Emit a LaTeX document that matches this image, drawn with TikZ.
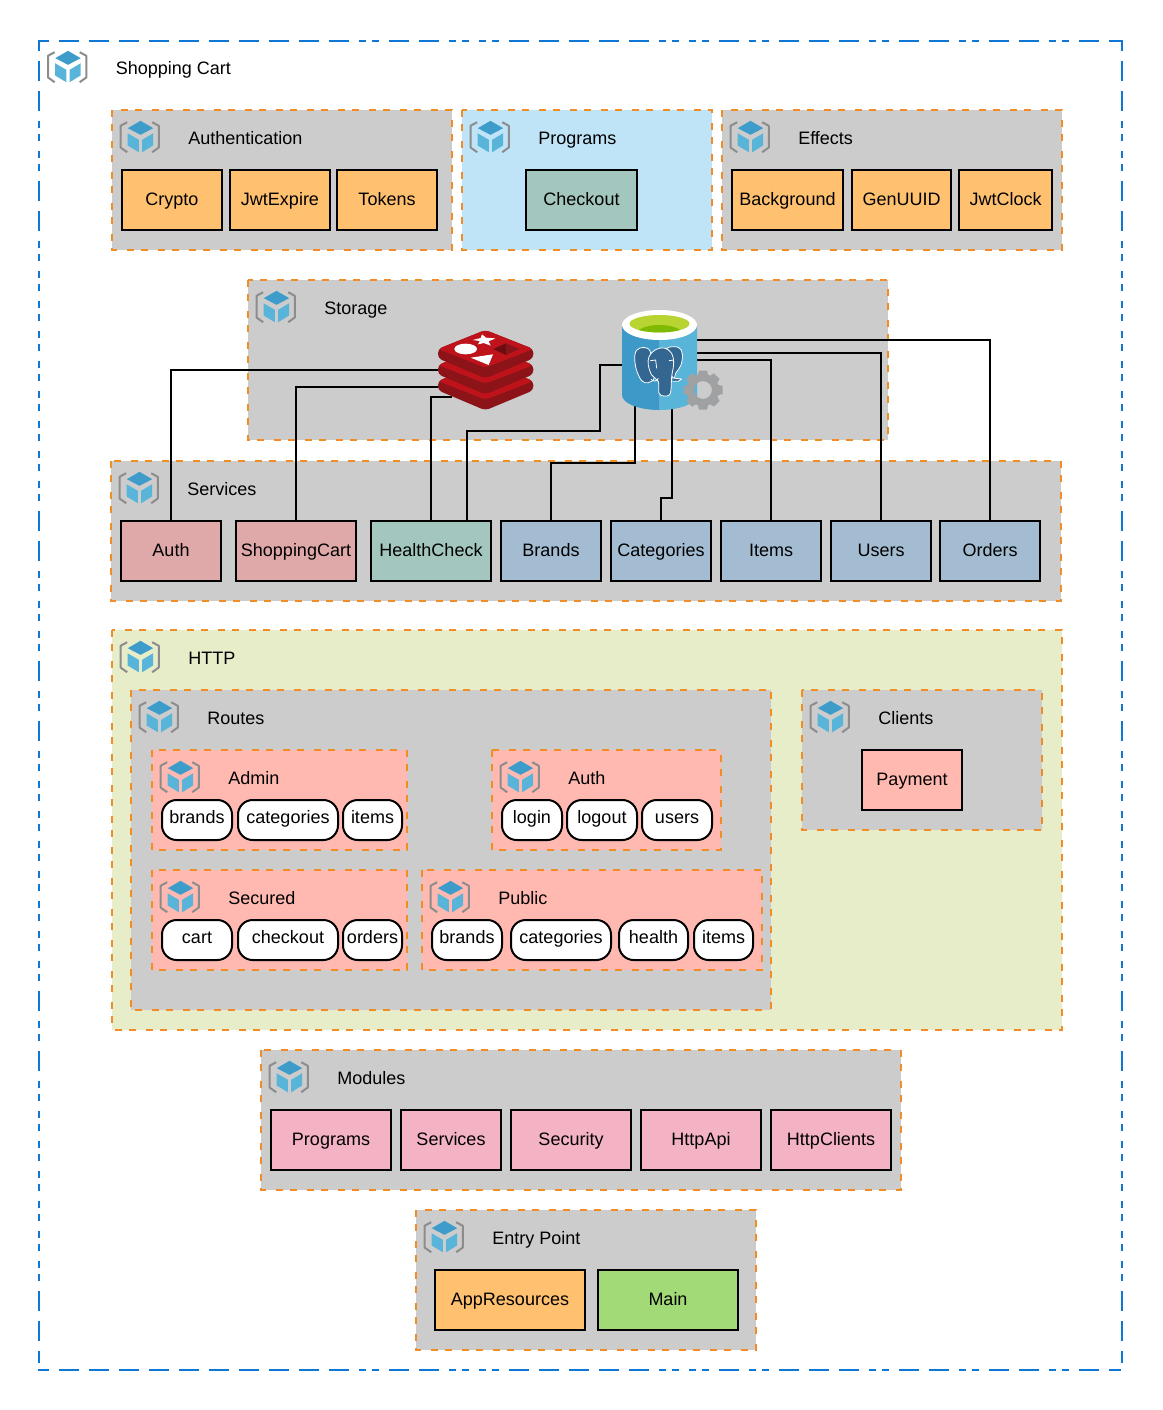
\documentclass[tikz,border=0pt]{standalone}
\usepackage{fontspec}
\setmainfont{Liberation Sans}
\usetikzlibrary{calc}

\definecolor{dashblue}{HTML}{0F77D6}
\definecolor{dashorange}{HTML}{F08D26}
\definecolor{pkggrey}{HTML}{CCCCCC}
\definecolor{pkgblue}{HTML}{C0E4F7}
\definecolor{pkggreen}{HTML}{E8EDC9}
\definecolor{pkgsalmon}{HTML}{FFB9B0}
\definecolor{leaforange}{HTML}{FFC170}
\definecolor{leafteal}{HTML}{A3C7BE}
\definecolor{leafred}{HTML}{E0A9A9}
\definecolor{leafslate}{HTML}{A3BCD2}
\definecolor{leafpink}{HTML}{F4B2C5}
\definecolor{leafgreen}{HTML}{A3DA78}

\tikzset{
  sideh/.style={draw=dashblue,line width=1.5pt,dash pattern=on 8.25pt off 7.5pt
    on 15pt off 7.5pt on 15pt off 7.5pt on 15pt off 7.5pt on 15pt off 7.5pt on 15pt off 7.5pt
    on 15pt off 7.5pt on 15pt off 7.5pt on 15pt off 7.5pt on 15pt off 7.5pt on 15pt off 7.5pt
    on 5.25pt off 4.5pt on 5.25pt off 7.5pt
    on 15pt off 7.5pt on 15pt off 7.5pt
    on 5.25pt off 4.5pt on 5.25pt off 7.5pt on 5.25pt off 4.5pt on 5.25pt off 7.5pt
    on 15pt off 7.5pt on 15pt off 7.5pt on 15pt off 7.5pt on 15pt off 7.5pt on 15pt off 7.5pt
    on 5.25pt off 4.5pt on 5.25pt off 7.5pt on 5.25pt off 4.5pt on 5.25pt off 7.5pt
    on 15pt off 7.5pt
    on 5.25pt off 4.5pt on 5.25pt off 7.5pt
    on 15pt off 7.5pt on 15pt off 7.5pt on 15pt off 7.5pt
    on 5.25pt off 4.5pt on 5.25pt off 7.5pt
    on 15pt off 7.5pt on 15pt off 7.5pt
    on 5.25pt off 4.5pt on 5.25pt off 7.5pt
    on 15pt off 7.5pt on 15pt off 7.5pt
    on 5.25pt off 4.5pt on 5.25pt off 7.5pt
    on 15pt off 7.5pt on 9pt off 40pt},
  sidev/.style={draw=dashblue,line width=1.5pt,dash pattern=on 8.25pt off 7.5pt
    on 15pt off 7.5pt on 15pt off 7.5pt
    on 5.25pt off 4.5pt on 5.25pt off 7.5pt on 5.25pt off 4.5pt on 5.25pt off 7.5pt
    on 15pt off 7.5pt on 15pt off 7.5pt
    on 5.25pt off 4.5pt on 5.25pt off 7.5pt on 5.25pt off 4.5pt on 5.25pt off 7.5pt
    on 5.25pt off 4.5pt on 5.25pt off 7.5pt on 5.25pt off 4.5pt on 5.25pt off 7.5pt
    on 5.25pt off 4.5pt on 5.25pt off 7.5pt on 5.25pt off 4.5pt on 5.25pt off 7.5pt
    on 5.25pt off 4.5pt on 5.25pt off 7.5pt on 5.25pt off 4.5pt on 5.25pt off 7.5pt
    on 5.25pt off 4.5pt on 5.25pt off 7.5pt
    on 15pt off 7.5pt on 15pt off 7.5pt
    on 5.25pt off 4.5pt on 5.25pt off 7.5pt on 5.25pt off 4.5pt on 5.25pt off 7.5pt
    on 5.25pt off 4.5pt on 5.25pt off 7.5pt
    on 15pt off 7.5pt
    on 5.25pt off 4.5pt on 5.25pt off 7.5pt
    on 15pt off 7.5pt
    on 5.25pt off 4.5pt on 5.25pt off 7.5pt on 5.25pt off 4.5pt on 5.25pt off 7.5pt
    on 5.25pt off 4.5pt on 5.25pt off 7.5pt on 5.25pt off 4.5pt on 5.25pt off 7.5pt
    on 5.25pt off 4.5pt on 5.25pt off 7.5pt on 5.25pt off 4.5pt on 5.25pt off 7.5pt
    on 5.25pt off 4.5pt on 5.25pt off 7.5pt on 5.25pt off 4.5pt on 5.25pt off 7.5pt
    on 15pt off 7.5pt
    on 5.25pt off 4.5pt on 5.25pt off 7.5pt
    on 15pt off 7.5pt
    on 5.25pt off 4.5pt on 5.25pt off 7.5pt on 5.25pt off 4.5pt on 5.25pt off 7.5pt
    on 5.25pt off 4.5pt on 5.25pt off 7.5pt on 5.25pt off 4.5pt on 5.25pt off 7.5pt
    on 5.25pt off 4.5pt on 5.25pt off 7.5pt on 5.25pt off 4.5pt on 5.25pt off 7.5pt
    on 5.25pt off 4.5pt on 5.25pt off 7.5pt
    on 15pt off 7.5pt on 15pt off 7.5pt on 9pt off 40pt},
  pkg/.style={draw=dashorange,line width=1.5pt,dash pattern=on 5.25pt off 5.25pt on 5.25pt off 7.5pt,fill=#1},
  pkgtitle/.style={anchor=base west,inner sep=0pt},
  leaf/.style={draw,line width=1.5pt,fill=#1,inner sep=0pt,outer sep=0pt,minimum height=45pt,
    text height=9.75pt,text depth=1.5pt},
  leafw/.style={minimum width=#1*0.75pt},
  pill/.style={draw,line width=1.5pt,fill=white,rounded corners=11pt,inner sep=0pt,outer sep=0pt,
    minimum height=30pt,minimum width=#1*0.75pt,text height=9.75pt,text depth=4.25pt},
  link/.style={draw,line width=1.5pt},
  pkgicon/.pic={
    \draw[gray!90,line width=1.5pt,line join=round] (-12.3,-14.3) -- (-19,-10.7) -- (-19,11) -- (-12.3,15.7);
    \draw[gray!90,line width=1.5pt,line join=round] (12.7,-14.3) -- (19.3,-10.7) -- (19.3,11) -- (12.7,15.7);
    \fill[fill={rgb,255:red,62;green,156;blue,202}] (1,-15.7) -- (13.7,-8.3) -- (1,-1.7) -- (-11.7,-8.3) -- cycle;
    \fill[fill={rgb,255:red,89;green,180;blue,217}] (-12,-3.3) -- (-0.7,3.3) -- (-0.7,15.7) -- (-12,8.9) -- cycle;
    \fill[fill={rgb,255:red,89;green,180;blue,217}] (2.7,3.3) -- (13.7,-3.3) -- (13.7,8.9) -- (2.7,15.7) -- cycle;
  }
}

% style, x0, y0, x1, y1, title
\newcommand{\pkgbox}[6]{
  \draw[#1] (#2,#3) rectangle (#4,#5);
  \pic at ($(#2,#3)+(27.5,26.5)$) {pkgicon};
  \node[pkgtitle] (title #2 #3) at ($(#2,#3)+(76,34.5)$) {#6};
}

\begin{document}
\begin{tikzpicture}[x=0.75pt,y=-0.75pt,font=\fontsize{13.5pt}{16pt}\selectfont]
\useasboundingbox (0,0) rectangle (1163,1410);

\pkgbox{draw=none}{39.5}{40}{1122}{1370}{Shopping Cart}
\draw[sideh] (38,41) -- (1123,41);
\draw[sideh] (38,1370) -- (1123,1370);
\draw[sidev] (39,40) -- (39,1371);
\draw[sidev] (1122,40) -- (1122,1371);

%top row
\pkgbox{pkg=pkggrey}{112}{110}{452}{250}{Authentication}
\node[leaf=leaforange,leafw=100] (crypto) at (172,200) {Crypto};
\node[leaf=leaforange,leafw=100] (jwtexpire) at (280,200) {JwtExpire};
\node[leaf=leaforange,leafw=100] (tokens) at (387,200) {Tokens};

\pkgbox{pkg=pkgblue}{462}{110}{712}{250}{Programs}
\node[leaf=leafteal,leafw=111] (checkout) at (581.5,200) {Checkout};

\pkgbox{pkg=pkggrey}{722}{110}{1062}{250}{Effects}
\node[leaf=leaforange,leafw=111] (background) at (787.5,200) {Background};
\node[leaf=leaforange,leafw=99] (genuuid) at (901.5,200) {GenUUID};
\node[leaf=leaforange,leafw=93] (jwtclock) at (1005.5,200) {JwtClock};

%storage and services
\pkgbox{pkg=pkggrey}{248}{280}{888}{440}{Storage}
\pkgbox{pkg=pkggrey}{111}{461}{1061}{601}{Services}
\node[leaf=leafred,leafw=100] (auth) at (171,551) {Auth};
\node[leaf=leafred,leafw=120] (shoppingcart) at (296,551) {ShoppingCart};
\node[leaf=leafteal,leafw=120] (healthcheck) at (431,551) {HealthCheck};
\node[leaf=leafslate,leafw=100] (brands) at (551,551) {Brands};
\node[leaf=leafslate,leafw=100] (categories) at (661,551) {Categories};
\node[leaf=leafslate,leafw=100] (items) at (771,551) {Items};
\node[leaf=leafslate,leafw=100] (users) at (881,551) {Users};
\node[leaf=leafslate,leafw=100] (orders) at (990,551) {Orders};

\coordinate (redisA) at (445,370);
\coordinate (redisB) at (445,387);
\coordinate (redisC) at (452,397);
\coordinate (pgA) at (630,365);
\coordinate (pgB) at (635,400);
\coordinate (pgC) at (672,400);
\coordinate (pgD) at (690,360);
\coordinate (pgE) at (690,353);
\coordinate (pgF) at (690,339.5);
\coordinate (hcB) at (467,521);

\draw[link] (auth.north) |- (redisA);
\draw[link] (shoppingcart.north) |- (redisB);
\draw[link] (healthcheck.north) |- (redisC);
\draw[link] (hcB) |- (600,430.5) |- (pgA);
\draw[link] (brands.north) |- (635,463) -- (pgB);
\draw[link] (categories.north) |- (672,498) -- (pgC);
\draw[link] (items.north) |- (pgD);
\draw[link] (users.north) |- (pgE);
\draw[link] (orders.north) |- (pgF);

%redis logo
\begin{scope}[shift={(432,325)},x=0.25pt,y=-0.25pt]
\foreach \dy in {96,48,0}{
  \fill[rounded corners=3pt,fill={rgb,255:red,140;green,20;blue,24}] (18,72+\dy) -- (160,15+\dy) -- (304,72+\dy) -- (304,100+\dy) -- (160,160+\dy) -- (18,100+\dy) -- cycle;
  \fill[rounded corners=3pt,fill={rgb,255:red,190;green,19;blue,26}] (18,72+\dy) -- (160,15+\dy) -- (304,72+\dy) -- (160,128+\dy) -- cycle;
}
\fill[white] (150,28) -- (162,38) -- (190,40) -- (170,49) -- (176,62) -- (155,54) -- (138,58) -- (143,48) -- (122,45) -- (146,39) -- cycle;
\fill[white] (101,72) ellipse [x radius=34,y radius=16];
\fill[white] (116,98) -- (183,88) -- (170,120) -- cycle;
\fill[fill={rgb,255:red,110;green,12;blue,16}] (183,72) -- (222,55) -- (222,90) -- cycle;
\fill[fill={rgb,255:red,135;green,20;blue,24}] (222,55) -- (262,72) -- (222,90) -- cycle;
\end{scope}

%postgres logo
\fill[fill={rgb,255:red,60;green,153;blue,200}] (622,325) -- (622,395) arc [start angle=180,end angle=90,x radius=37.5,y radius=15] -- (659.5,325) -- cycle;
\fill[fill={rgb,255:red,89;green,180;blue,217}] (697,325) -- (697,395) arc [start angle=0,end angle=90,x radius=37.5,y radius=15] -- (659.5,325) -- cycle;
\fill[white] (659.5,325) ellipse [x radius=37.5,y radius=15];
\begin{scope}
\clip (659.5,323.7) ellipse [x radius=30,y radius=8.7];
\fill[fill={rgb,255:red,184;green,212;blue,50}] (625,310) rectangle (695,340);
\fill[fill={rgb,255:red,127;green,186;blue,0}] (659.5,334) ellipse [x radius=23,y radius=9];
\end{scope}
\begin{scope}[shift={(625,340)},x=0.25pt,y=-0.25pt]
\draw[white,line width=0.6pt,fill={rgb,255:red,51;green,103;blue,145},line join=round]
  plot [smooth cycle,tension=0.6] coordinates {(72,28) (45,24) (30,42) (33,85) (50,122) (70,128) (88,112) (80,60)};
\draw[white,line width=0.6pt,fill={rgb,255:red,51;green,103;blue,145},line join=round]
  plot [smooth cycle,tension=0.6] coordinates {(125,26) (160,22) (172,42) (168,75) (152,100) (145,115) (125,70)};
\draw[white,line width=0.6pt,fill={rgb,255:red,51;green,103;blue,145},line join=round]
  plot [smooth cycle,tension=0.6] coordinates {(72,50) (90,30) (118,24) (140,40) (146,70) (140,110) (136,160) (118,168) (102,160) (100,125) (80,105) (70,75)};
\draw[white,line width=0.6pt,fill={rgb,255:red,51;green,103;blue,145},line join=round]
  (143,114) -- (170,117) -- (160,124) -- (143,124);
\draw[white,line width=0.6pt] (78,118) .. controls (85,125) and (95,125) .. (100,115);
\draw[white,line width=0.6pt] (76,62) -- (92,60) -- (95,85);
\draw[white,line width=0.6pt] (132,62) -- (146,60);
\end{scope}
\draw[fill=none,draw={rgb,255:red,160;green,161;blue,162},line width=5.25pt] (703,390) circle [radius=12.5];
\foreach \a in {0,45,...,315}{
  \fill[fill={rgb,255:red,160;green,161;blue,162},rotate around={\a:(703,390)}] (699,370.5) -- (707,370.5) -- (709,378) -- (697,378) -- cycle;
}

%http
\pkgbox{pkg=pkggreen}{112}{630}{1062}{1030}{HTTP}
\pkgbox{pkg=pkggrey}{131}{690}{771}{1010}{Routes}
\pkgbox{pkg=pkggrey}{802}{690}{1042}{830}{Clients}
\node[leaf=pkgsalmon,leafw=100] (payment) at (912,780) {Payment};

\pkgbox{pkg=pkgsalmon}{152}{750}{407}{850}{Admin}
\node[pill=70] (adminbrands) at (197,820) {brands};
\node[pill=100] (admincategories) at (288,820) {categories};
\node[pill=59] (adminitems) at (372.5,820) {items};

\pkgbox{pkg=pkgsalmon}{492}{750}{721}{850}{Auth}
\node[pill=60] (authlogin) at (532,820) {login};
\node[pill=70] (authlogout) at (602,820) {logout};
\node[pill=70] (authusers) at (677,820) {users};

\pkgbox{pkg=pkgsalmon}{152}{870}{407}{970}{Secured}
\node[pill=70] (securedcart) at (197,940) {cart};
\node[pill=100] (securedcheckout) at (288,940) {checkout};
\node[pill=59] (securedorders) at (372.5,940) {orders};

\pkgbox{pkg=pkgsalmon}{422}{870}{762}{970}{Public}
\node[pill=70] (publicbrands) at (467,940) {brands};
\node[pill=100] (publiccategories) at (561,940) {categories};
\node[pill=69] (publichealth) at (653.5,940) {health};
\node[pill=59] (publicitems) at (723.5,940) {items};

%modules
\pkgbox{pkg=pkggrey}{261}{1050}{901}{1190}{Modules}
\node[leaf=leafpink,leafw=120] (modprograms) at (331,1140) {Programs};
\node[leaf=leafpink,leafw=100] (modservices) at (451,1140) {Services};
\node[leaf=leafpink,leafw=120] (modsecurity) at (571,1140) {Security};
\node[leaf=leafpink,leafw=120] (modhttpapi) at (701,1140) {HttpApi};
\node[leaf=leafpink,leafw=120] (modhttpclients) at (831,1140) {HttpClients};

%entry point
\pkgbox{pkg=pkggrey}{416}{1210}{756}{1350}{Entry Point}
\node[leaf=leaforange,leafw=150] (appresources) at (510,1300) {AppResources};
\node[leaf=leafgreen,leafw=140] (main) at (668,1300) {Main};
\end{tikzpicture}
\end{document}
